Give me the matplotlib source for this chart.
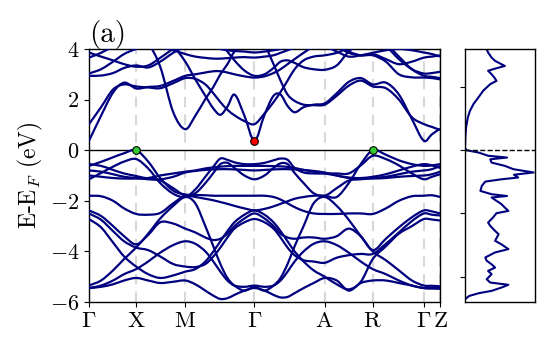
import numpy as np
import matplotlib
matplotlib.use("Agg")
import matplotlib.pyplot as plt
from matplotlib.path import Path
from matplotlib.patches import PathPatch

plt.rcParams['mathtext.fontset'] = 'cm'
plt.rcParams['font.family'] = ['cmr10', 'DejaVu Serif']
plt.rcParams['axes.formatter.use_mathtext'] = True

# ---------------- data ----------------
# k positions along the path (path units)
k_points = [0, 12, 24, 35, 47, 59, 71, 84, 96, 106, 116, 124, 131, 138, 145, 155, 165,
            175, 184, 191, 198, 205, 214, 224, 235, 247, 259, 271, 283, 296, 309, 322, 334,
            342, 350]
hs_positions = [0, 47, 96, 165, 235, 283, 334, 350]
hs_labels = [r'$\Gamma$', r'$\mathrm{X}$', r'$\mathrm{M}$', r'$\Gamma$',
             r'$\mathrm{A}$', r'$\mathrm{R}$', r'$\Gamma$', r'$\mathrm{Z}$']

valence_bands = [
    [-0.62,-0.46,-0.28,-0.12,0.00,-0.45,-1.10,-1.60,-1.75,-1.77,-1.78,-1.80,-1.80,-1.80,-1.80,-1.80,-1.80,
     -1.80,-1.85,-1.95,-2.10,-2.25,-2.40,-2.50,-2.52,-2.52,-2.50,-2.50,-2.52,-2.30,-2.00,-1.82,-1.80,
     -1.78,-1.85],
    [-1.15,-0.90,-0.65,-0.45,-0.35,-0.72,-1.30,-1.72,-1.85,-1.55,-1.05,-0.65,-0.33,-0.38,-0.48,-0.55,-0.55,
     -0.50,-0.40,-0.33,-0.38,-0.70,-0.88,-0.92,-0.92,-0.92,-0.92,-0.60,-0.22,-0.35,-0.60,-0.92,-1.15,
     -1.05,-0.95],
    [-0.55,-0.62,-0.78,-0.92,-1.02,-1.12,-1.15,-1.05,-0.88,-0.82,-0.78,-0.76,-0.75,-0.75,-0.76,-0.78,-0.80,
     -0.78,-0.76,-0.75,-0.75,-0.76,-0.78,-0.82,-0.88,-1.00,-1.08,-1.10,-1.05,-0.95,-0.80,-0.65,-0.55,
     -0.60,-0.70],
    [-0.80,-0.85,-0.95,-1.05,-1.10,-1.15,-1.20,-1.50,-1.80,-1.70,-1.30,-0.90,-0.55,-0.50,-0.70,-1.00,-1.15,
     -1.00,-0.70,-0.52,-0.55,-0.90,-1.30,-1.70,-1.80,-1.50,-1.20,-1.15,-1.10,-1.05,-0.95,-0.85,-0.80,
     -0.75,-0.62],
    [-1.00,-1.05,-1.10,-1.12,-1.12,-1.10,-1.00,-0.92,-0.85,-0.80,-0.72,-0.68,-0.65,-0.63,-0.62,-0.62,-0.62,
     -0.62,-0.63,-0.64,-0.66,-0.70,-0.78,-0.85,-0.92,-1.00,-1.10,-1.12,-1.12,-1.10,-1.05,-1.02,-1.00,
     -0.95,-0.85],
    [-1.80,-1.82,-2.00,-2.30,-2.52,-2.55,-2.48,-2.10,-1.80,-1.85,-1.92,-1.98,-2.05,-2.12,-2.20,-2.30,-2.38,
     -2.32,-2.22,-2.12,-2.02,-1.92,-1.85,-1.80,-1.80,-1.85,-1.30,-0.55,0.00,-0.18,-0.40,-0.55,-0.62,
     -0.60,-0.55],
    [-5.35,-5.15,-4.75,-4.30,-3.85,-3.30,-2.70,-2.20,-1.85,-2.10,-3.00,-3.80,-4.50,-5.05,-5.35,-5.55,-5.40,
     -5.55,-5.35,-5.05,-4.50,-3.80,-3.00,-2.10,-1.85,-2.20,-2.75,-3.40,-4.00,-4.35,-4.75,-5.15,-5.35,
     -5.36,-5.38],
    [-2.38,-2.60,-3.00,-3.40,-3.72,-3.35,-2.85,-2.90,-3.10,-3.25,-3.45,-3.55,-3.50,-3.30,-3.00,-2.70,-2.50,
     -2.70,-3.00,-3.30,-3.45,-3.50,-3.45,-3.45,-3.50,-3.40,-3.10,-3.40,-3.95,-3.50,-3.05,-2.65,-2.38,
     -2.42,-2.50],
    [-2.50,-2.75,-3.20,-3.60,-3.85,-3.95,-4.20,-4.50,-4.60,-4.62,-4.50,-4.20,-3.85,-3.45,-3.10,-2.85,-2.72,
     -2.85,-3.10,-3.45,-3.85,-4.15,-4.35,-4.40,-4.45,-4.25,-4.15,-4.10,-4.10,-3.70,-3.25,-2.80,-2.50,
     -2.55,-2.58],
    [-2.72,-3.05,-3.65,-4.20,-4.60,-4.90,-5.05,-4.95,-4.80,-4.70,-4.40,-4.00,-3.60,-3.20,-2.85,-2.55,-2.38,
     -2.55,-2.85,-3.20,-3.60,-4.00,-4.40,-4.75,-5.00,-5.30,-5.50,-5.20,-4.30,-3.80,-3.30,-3.00,-2.72,
     -2.74,-2.78],
    [-5.45,-5.35,-5.15,-4.90,-4.70,-4.40,-4.05,-3.75,-3.60,-3.70,-4.00,-4.40,-4.80,-5.15,-5.35,-5.40,-5.35,
     -5.40,-5.35,-5.15,-4.80,-4.40,-4.00,-3.70,-3.60,-3.75,-4.05,-4.40,-4.70,-4.90,-5.15,-5.35,-5.45,
     -5.44,-5.42],
    [-5.45,-5.40,-5.30,-5.15,-5.05,-5.15,-5.25,-5.20,-5.15,-5.30,-5.55,-5.75,-5.88,-5.85,-5.72,-5.55,-5.45,
     -5.55,-5.72,-5.82,-5.80,-5.65,-5.45,-5.25,-5.05,-5.15,-5.55,-5.25,-5.15,-5.15,-5.25,-5.35,-5.45,
     -5.47,-5.48],
]

conduction_bands = [
    [0.37,1.36,2.28,2.67,2.44,2.50,2.54,2.74,2.94,3.00,3.07,3.12,3.12,3.07,3.00,2.92,2.87,
     2.92,3.05,3.20,3.40,3.60,3.85,4.10,4.30,4.20,3.90,3.75,3.75,3.50,3.00,2.88,2.87,
     2.85,2.80],
    [1.03,1.70,2.40,2.60,2.52,2.48,2.45,2.65,2.85,2.82,2.60,2.25,1.90,1.60,1.38,1.15,1.03,
     1.45,1.90,2.30,2.75,3.20,3.55,3.70,3.75,3.85,4.05,4.20,4.30,4.10,3.60,3.20,3.03,
     3.05,3.10],
    [4.40,4.50,4.60,4.50,4.40,4.20,3.30,1.50,0.83,1.36,2.02,2.50,3.00,3.40,3.90,4.30,4.40,
     4.15,3.40,2.75,2.20,1.95,1.80,1.78,1.80,2.15,2.55,2.75,2.52,2.45,2.00,1.30,1.03,
     0.92,0.80],
    [2.94,2.95,3.05,3.25,3.35,3.27,3.50,3.85,4.10,4.20,4.30,4.30,4.20,3.90,3.55,3.15,2.94,
     3.00,3.25,3.50,3.55,3.45,3.28,3.20,3.18,3.35,3.90,4.20,4.30,4.20,3.70,3.20,2.94,
     2.90,2.85],
    [3.03,3.20,3.50,3.80,4.00,4.10,4.05,3.95,3.80,3.70,3.65,3.62,3.62,3.64,3.66,3.68,3.66,
     3.70,3.75,3.85,3.95,4.05,4.10,4.20,4.25,4.10,3.85,3.75,3.80,3.60,3.40,3.50,3.66,
     3.70,3.75],
    [3.66,3.85,4.10,4.30,4.40,4.40,4.30,4.10,3.50,2.80,2.15,1.65,1.40,1.72,2.20,1.36,0.37,
     1.40,2.15,2.20,1.75,1.50,1.70,1.80,1.85,2.25,2.70,2.85,2.60,2.67,2.20,1.23,0.37,
     0.63,0.85],
    [3.86,3.70,3.55,3.40,3.30,3.35,3.65,4.00,4.20,4.25,4.20,4.10,4.00,3.95,3.92,3.90,3.86,
     3.90,3.95,4.00,4.10,4.20,4.25,4.20,4.10,3.90,3.70,3.75,3.85,3.95,4.00,3.95,3.86,
     3.80,3.70],
]

vbm_k = [47, 283]
vbm_e = [0.0, 0.0]
cbm_k = [165]
cbm_e = [0.37]

dos_energy = [3.99, 3.86, 3.66, 3.53, 3.40, 3.33, 3.24, 3.14, 3.00, 2.87, 2.74, 2.61, 2.48,
              2.35, 2.08, 1.82, 1.55, 1.29, 0.90, 0.50, 0.10, 0.0,
              -0.09, -0.22, -0.29, -0.36, -0.49, -0.62, -0.75, -0.88, -0.97, -1.08, -1.15,
              -1.24, -1.41, -1.61, -1.74, -1.81, -1.87, -2.00, -2.13, -2.27, -2.40, -2.49,
              -2.66, -2.86, -2.99, -3.19, -3.32, -3.58, -3.72, -3.91, -4.04, -4.24, -4.37,
              -4.51, -4.64, -4.77, -4.90, -5.10, -5.23, -5.32, -5.43, -5.56, -5.65, -5.76, -5.89]
dos_value = [0.31, 0.33, 0.38, 0.43, 0.52, 0.57, 0.45, 0.33, 0.38, 0.42, 0.45, 0.36, 0.31,
             0.26, 0.19, 0.12, 0.07, 0.04, 0.015, 0.005, 0.0, 0.02,
             0.19, 0.33, 0.60, 0.36, 0.38, 0.57, 0.69, 0.98, 0.70, 0.76, 0.52,
             0.29, 0.24, 0.22, 0.38, 0.60, 0.38, 0.45, 0.52, 0.57, 0.62, 0.45,
             0.40, 0.33, 0.36, 0.43, 0.48, 0.43, 0.52, 0.62, 0.43, 0.29, 0.31,
             0.38, 0.43, 0.33, 0.38, 0.31, 0.36, 0.62, 0.52, 0.38, 0.20, 0.06, 0.0]

# ---------------- drawing ----------------
def smooth_path(x, y):
    x = np.asarray(x, float)
    y = np.asarray(y, float)
    n = len(x)
    m = np.empty(n)
    m[1:-1] = (y[2:] - y[:-2]) / (x[2:] - x[:-2])
    m[0] = (y[1] - y[0]) / (x[1] - x[0])
    m[-1] = (y[-1] - y[-2]) / (x[-1] - x[-2])
    verts = [(x[0], y[0])]
    codes = [Path.MOVETO]
    for i in range(n - 1):
        h = x[i + 1] - x[i]
        verts += [(x[i] + h / 3, y[i] + m[i] * h / 3),
                  (x[i + 1] - h / 3, y[i + 1] - m[i + 1] * h / 3),
                  (x[i + 1], y[i + 1])]
        codes += [Path.CURVE4] * 3
    return Path(verts, codes)

band_color = '#00007f'
fig = plt.figure(figsize=(5.5, 3.5), dpi=100)
ax = fig.add_axes([89/550, 48/350, 351/550, 253/350])
ax2 = fig.add_axes([465/550, 48/350, 70/550, 253/350])

for pos in hs_positions:
    ax.axvline(pos, color='#d8d8d8', lw=1.5, ls=(0, (5, 3.5)), zorder=1)
ax.axhline(0, color='black', lw=1.0, zorder=2)

for band in valence_bands + conduction_bands:
    ax.add_patch(PathPatch(smooth_path(k_points, band), facecolor='none',
                           edgecolor=band_color, lw=1.6, zorder=3))

ax.plot(vbm_k, vbm_e, 'o', ms=5.5, mfc='#33cc33', mec='black', mew=0.8, zorder=5, clip_on=False)
ax.plot(cbm_k, cbm_e, 'o', ms=5.5, mfc='#ff0000', mec='black', mew=0.8, zorder=5)

ax.set_xlim(0, 350)
ax.set_ylim(-6, 4)
ax.set_xticks(hs_positions)
ax.set_xticklabels(hs_labels, fontsize=16.5)
ax.set_yticks([-6, -4, -2, 0, 2, 4])
ax.set_yticklabels([r'$-6$', r'$-4$', r'$-2$', r'$0$', r'$2$', r'$4$'], fontsize=16)
ax.set_ylabel(r'E-E$_F$ (eV)', fontsize=17, labelpad=3)
ax.set_title('(a)', loc='left', fontsize=21, pad=0.5)
for s in ax.spines.values():
    s.set_linewidth(1.0)

ax2.plot(dos_value, dos_energy, color=band_color, lw=1.5)
ax2.axhline(0, color='black', lw=1.0, ls='--')
ax2.set_xlim(0, 1.0)
ax2.set_ylim(-6, 4)
ax2.set_xticks([])
ax2.set_yticks([-5, -2.5, 0, 2.5])
ax2.set_yticklabels([])
for s in ax2.spines.values():
    s.set_linewidth(1.0)

fig.savefig('out.png', dpi=100)
